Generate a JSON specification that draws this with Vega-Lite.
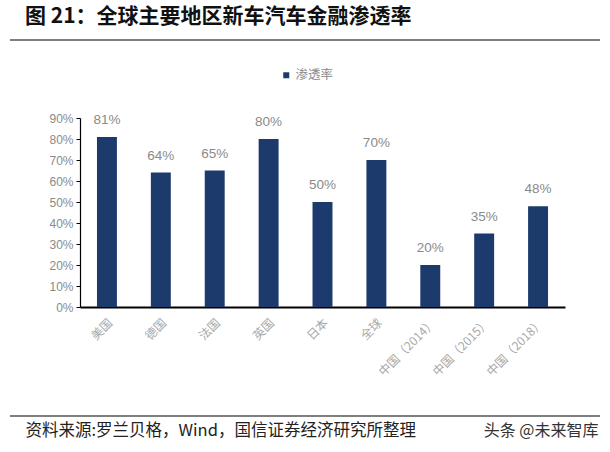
{
  "$schema": "https://vega.github.io/schema/vega-lite/v6.json",
  "autosize": "none",
  "width": 485,
  "height": 189,
  "padding": {"left": 80, "top": 118, "right": 45, "bottom": 145},
  "background": "white",
  "config": {
    "view": {"stroke": null},
    "font": "Noto Sans CJK SC"
  },
  "title": {
    "text": "图 21：全球主要地区新车汽车金融渗透率",
    "anchor": "start",
    "frame": "group",
    "dx": -55,
    "dy": 18,
    "fontSize": 21,
    "fontWeight": "bold",
    "color": "#111111",
    "font": "Noto Sans CJK SC",
    "offset": 30
  },
  "resolve": {"scale": {"x": "independent"}, "axis": {"x": "independent", "y": "independent"}},
  "layer": [
    {
      "data": {
        "values": [
          {"region": "美国", "rate": 0.81},
          {"region": "德国", "rate": 0.64},
          {"region": "法国", "rate": 0.65},
          {"region": "英国", "rate": 0.80},
          {"region": "日本", "rate": 0.50},
          {"region": "全球", "rate": 0.70},
          {"region": "中国（2014）", "rate": 0.20},
          {"region": "中国（2015）", "rate": 0.35},
          {"region": "中国（2018）", "rate": 0.48}
        ]
      },
      "encoding": {
        "x": {
          "field": "region",
          "type": "nominal",
          "sort": null,
          "scale": {"paddingInner": 0.63, "paddingOuter": 0.315},
          "axis": {
            "orient": "bottom",
            "title": "资料来源:罗兰贝格，Wind，国信证券经济研究所整理",
            "titleX": -55,
            "titleY": 123,
            "titleAlign": "left",
            "titleAnchor": null,
            "titleBaseline": "middle",
            "titleFontSize": 16.5,
            "titleFontWeight": "normal",
            "titleColor": "#222222",
            "titleFont": "Noto Sans CJK SC",
            "labelAngle": -45,
            "labelFontSize": 12,
            "labelColor": "#a8a8a8",
            "labelPadding": 10,
            "ticks": false,
            "domainColor": "#000000",
            "domainWidth": 1.8
          }
        },
        "y": {
          "field": "rate",
          "type": "quantitative",
          "scale": {"domain": [0, 0.9], "nice": false},
          "axis": {
            "title": null,
            "format": ".0%",
            "values": [0, 0.1, 0.2, 0.3, 0.4, 0.5, 0.6, 0.7, 0.8, 0.9],
            "labelOverlap": false,
            "grid": false,
            "labelFontSize": 12,
            "labelColor": "#8a8a8a",
            "labelFont": "Liberation Sans",
            "tickSize": 4,
            "tickColor": "#000000",
            "labelPadding": 3,
            "domainColor": "#000000",
            "domainWidth": 1.2
          }
        }
      },
      "layer": [
        {
          "mark": {"type": "bar"},
          "encoding": {
            "color": {
              "datum": "渗透率",
              "type": "nominal",
              "scale": {"range": ["#1c3a6b"]},
              "legend": {
                "title": null,
                "orient": "none",
                "legendX": 200,
                "legendY": -49,
                "symbolType": "square",
                "symbolSize": 36,
                "labelFontSize": 12.5,
                "labelColor": "#8a8a8a",
                "labelOffset": 3
              }
            }
          }
        },
        {
          "mark": {
            "type": "text",
            "baseline": "middle",
            "dy": -17,
            "fontSize": 13.5,
            "color": "#8a8a8a",
            "font": "Liberation Sans"
          },
          "encoding": {
            "text": {"field": "rate", "type": "quantitative", "format": ".0%"}
          }
        }
      ]
    },
    {
      "data": {
        "values": [
          {"pos": 1.2714, "x0": 0, "x1": 1},
          {"pos": -0.519, "x0": 0, "x1": 1}
        ]
      },
      "mark": {"type": "rule", "color": "#000000", "strokeWidth": 1.2, "clip": false},
      "encoding": {
        "x": {
          "field": "x0",
          "type": "quantitative",
          "scale": {"domain": [0, 1], "range": [-70, 520]},
          "axis": {
            "orient": "top",
            "labels": false,
            "ticks": false,
            "domain": false,
            "grid": false,
            "title": "头条 @未来智库",
            "titleX": 518,
            "titleY": 312,
            "titleAlign": "right",
            "titleAnchor": null,
            "titleBaseline": "middle",
            "titleFontSize": 16,
            "titleFontWeight": "normal",
            "titleColor": "#333333",
            "titleFont": "Noto Sans CJK SC"
          }
        },
        "x2": {"field": "x1"},
        "y": {"field": "pos", "type": "quantitative", "axis": null}
      }
    }
  ]
}
